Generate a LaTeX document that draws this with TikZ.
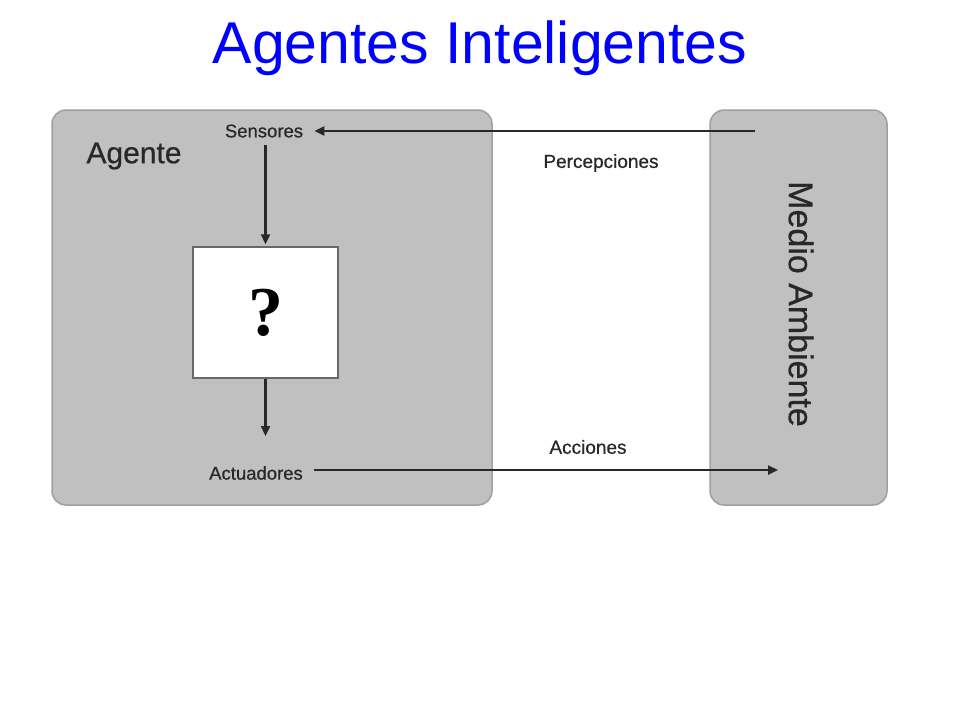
\documentclass[tikz,border=0pt]{standalone}
\usepackage{fontspec}
\setmainfont{Liberation Sans}
\newfontfamily\heavysans{Liberation Sans}[FakeBold=0.6]
\newfontfamily\qfont{Liberation Serif}
\usetikzlibrary{arrows.meta}
\definecolor{boxfill}{RGB}{192,192,192}
\definecolor{boxline}{RGB}{160,160,160}
\definecolor{inkc}{RGB}{40,40,40}
\definecolor{titleblue}{RGB}{0,0,255}
\tikzset{
  panel/.style={draw=boxline, line width=1.5pt, fill=boxfill, rounded corners=14pt, inner sep=0pt},
  qbox/.style={draw=inkc!70, line width=1.5pt, fill=white, inner sep=0pt},
  small/.style={text=inkc, font=\heavysans\fontsize{18.5}{22}\selectfont, inner xsep=11pt, inner ysep=7pt},
  midlab/.style={text=inkc, font=\heavysans\fontsize{19}{22}\selectfont, inner sep=0pt},
  conn/.style={draw=inkc, line width=2.3pt, -{Triangle[length=10pt,width=9pt]}},
}
\begin{document}
\begin{tikzpicture}[x=1pt,y=-1pt]
\useasboundingbox (0,0) rectangle (960,720);
\node[font=\fontsize{59}{66}\selectfont, text=titleblue, anchor=base, inner sep=0pt] (title) at (480,63) {Agentes Inteligentes};
\node[panel, minimum width=440pt, minimum height=395pt] (agent) at (272,307.5) {};
\node[panel, minimum width=177pt, minimum height=395pt] (env) at (798.5,307.5) {};
\node[qbox, minimum width=145pt, minimum height=131pt] (q) at (265.5,312.5) {\raisebox{-5pt}{\qfont\bfseries\fontsize{70}{72}\selectfont ?}};
\node[text=inkc, font=\heavysans\fontsize{30}{34}\selectfont, inner sep=0pt] (aglab) at (134,156) {Agente};
\node[text=inkc, font=\heavysans\fontsize{34}{40}\selectfont, rotate=-90, inner sep=0pt] (envlab) at (801,304) {Medio Ambiente};
\node[small] (sens) at (264,131) {Sensores};
\node[small] (act) at (256,473) {Actuadores};
\node[midlab] (perc) at (601,163) {Percepciones};
\node[midlab] (acc) at (588,447) {Acciones};
\coordinate (pstart) at (755,131);
\coordinate (qout) at (265.5,436);
\coordinate (aend) at (778,470);
\draw[conn] (pstart) -- (sens.east);
\draw[conn] (sens.south -| q.north) -- ([yshift=2pt]q.north);
\draw[conn] (q.south) -- (qout);
\draw[conn] (act.east |- aend) -- (aend);
\end{tikzpicture}
\end{document}
